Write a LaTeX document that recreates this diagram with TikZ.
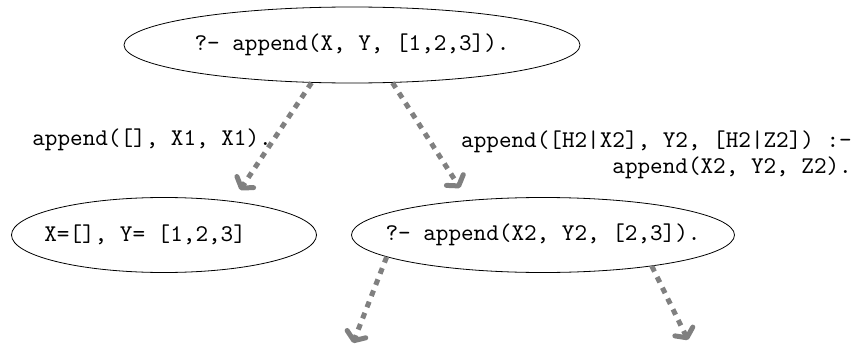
\documentclass[tikz,border=0pt]{standalone}
\usepackage{fontspec}
\setmonofont{lmmono10-regular.otf}
\usetikzlibrary{shapes.geometric,arrows.meta}
\begin{document}
\begin{tikzpicture}[x=1pt,y=-1pt,
  goal/.style={draw,ellipse,line width=0.8pt,inner sep=0pt,font=\ttfamily\fontsize{24}{28}\selectfont},
  lbl/.style={inner sep=0pt,font=\ttfamily\fontsize{24}{26}\selectfont},
  arr/.style={draw=gray,line width=5pt,dash pattern=on 6pt off 6pt,
    -{Straight Barb[length=7pt,width=20pt,round]}}]
\useasboundingbox (0,0) rectangle (852,348);
\node[goal,minimum width=456pt,minimum height=76pt] (top) at (352,45) {\makebox[0pt]{?- append(X, Y, [1,2,3]).}};
\node[goal,minimum width=305pt,minimum height=75pt] (left) at (164,235) {\makebox[0pt]{X=[], Y= [1,2,3]~~~}};
\node[goal,minimum width=383pt,minimum height=75pt] (right) at (543,235) {\makebox[0pt]{?- append(X2, Y2, [2,3]).}};
\node[lbl,anchor=east] (l1) at (272,140) {append([], X1, X1).};
\node[lbl,anchor=east,align=right] (l2) at (852,155) {append([H2|X2], Y2, [H2|Z2]) :-\\append(X2, Y2, Z2).};
\coordinate (e1) at (240,190);
\coordinate (e2) at (460,188);
\coordinate (e3) at (353,343);
\coordinate (e4) at (688,340);
\draw[arr] (top.223.8) -- (e1);
\draw[arr] (top.317) -- (e2);
\draw[arr] (right.188.5) -- (e3);
\draw[arr] (right.344.6) -- (e4);
\end{tikzpicture}
\end{document}
